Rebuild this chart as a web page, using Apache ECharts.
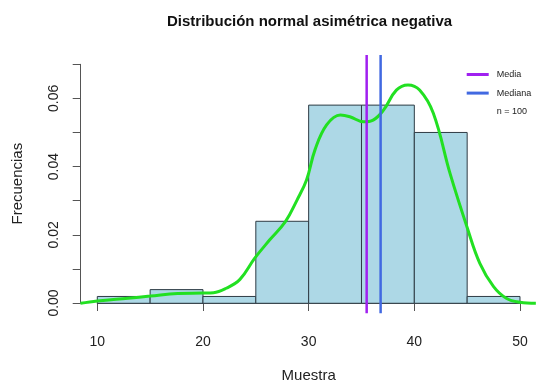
<!DOCTYPE html>
<html>
<head>
<meta charset="utf-8">
<script src="https://cdn.jsdelivr.net/npm/echarts@6/dist/echarts.min.js"></script>
<style>
html,body{margin:0;padding:0;background:#fff;}
#chart{width:537px;height:388px;}
</style>
</head>
<body>
<div id="chart"></div>
<script>
// Histogram bins (density)
var binStarts = [10, 15, 20, 25, 30, 35, 40, 45];
var binEnds   = [15, 20, 25, 30, 35, 40, 45, 50];
var binDensity = [0.002, 0.004, 0.002, 0.024, 0.058, 0.058, 0.050, 0.002];

// Kernel density curve
var densX = [8.4, 10.0, 12.9, 15.0, 17.6, 20.0, 21.0, 22.2, 23.5, 24.9, 26.3, 27.8, 28.9, 29.8, 30.6, 31.7, 33.0, 33.9, 35.2, 36.1, 37.1, 38.3, 39.4, 40.5, 41.8, 43.4, 45.0, 46.2, 47.5, 48.7, 50.0, 51.5];
var densY = [0.0000, 0.0007, 0.0015, 0.0021, 0.0029, 0.0030, 0.0031, 0.0044, 0.0070, 0.0132, 0.0185, 0.0239, 0.0302, 0.0361, 0.0449, 0.0522, 0.0551, 0.0546, 0.0531, 0.0536, 0.0566, 0.0624, 0.0639, 0.0624, 0.0556, 0.0378, 0.0222, 0.0117, 0.0049, 0.0015, 0.0003, 0.0000];

// Mean / median
var meanValue = 35.49;
var medianValue = 36.81;
var sampleSize = 100;

// Axis ticks
var xTicks = [10, 20, 30, 40, 50];
var yTickLabels = ['0.00', '0.02', '0.04', '0.06'];

// plot-region extent (R usr coordinates)
var usrX = [8.429, 51.571];
var usrY = [-0.00293, 0.07267];

var bars = binStarts.map(function (s, i) { return [s, binEnds[i], binDensity[i]]; });
var curve = densX.map(function (x, i) { return [x, densY[i]]; });

var chart = echarts.init(document.getElementById('chart'), null, {renderer: 'canvas'});
var FONT = 'Liberation Sans, Arial, sans-serif';
chart.setOption({
  animation: false,
  backgroundColor: '#ffffff',
  title: {
    text: 'Distribución normal asimétrica negativa',
    left: 162, top: 9,
    textStyle: {fontFamily: FONT, fontSize: 15, fontWeight: 'bold', color: '#111'}
  },
  legend: {
    orient: 'vertical',
    left: 466.7, top: 70, padding: 0,
    itemWidth: 22, itemHeight: 3,
    itemGap: 9.6,
    selectedMode: false,
    textStyle: {fontFamily: FONT, fontSize: 9, color: '#222', padding: [0, 0, 0, 3]},
    data: [
      {name: 'Media', icon: 'rect'},
      {name: 'Mediana', icon: 'rect'},
      {name: 'n = ' + sampleSize, icon: 'none'}
    ]
  },
  grid: [
    {left: 80.7, right: 0.4, top: 55, bottom: 74.7},
    {left: 97.3, right: 17, top: 64.3, bottom: 84.7}
  ],
  xAxis: [
    {gridIndex: 0, type: 'value', min: usrX[0], max: usrX[1], show: false},
    {
      gridIndex: 1, type: 'value', min: 10, max: 50, interval: 10,
      offset: 10,
      name: 'Muestra', nameLocation: 'middle', nameGap: 55,
      nameTextStyle: {fontFamily: FONT, fontSize: 15, color: '#222'},
      axisLine: {show: true, lineStyle: {color: '#555', width: 1}},
      axisTick: {show: true, length: 8, lineStyle: {color: '#555'}},
      axisLabel: {fontFamily: FONT, fontSize: 14, color: '#222', margin: 22,
        formatter: function (v) { return xTicks.indexOf(v) >= 0 ? String(v) : ''; }},
      splitLine: {show: false}
    }
  ],
  yAxis: [
    {gridIndex: 0, type: 'value', min: usrY[0], max: usrY[1], show: false},
    {
      gridIndex: 1, type: 'value', min: 0, max: 0.07, interval: 0.01,
      offset: 16.6,
      name: 'Frecuencias', nameLocation: 'middle', nameGap: 55, nameRotate: 90,
      nameTextStyle: {fontFamily: FONT, fontSize: 15, color: '#222'},
      axisLine: {show: true, lineStyle: {color: '#555', width: 1}},
      axisTick: {show: true, length: 8, lineStyle: {color: '#555'}},
      axisLabel: {fontFamily: FONT, fontSize: 14, color: '#222', margin: 20, rotate: 90,
        formatter: function (v) {
          var s = v.toFixed(2);
          return yTickLabels.indexOf(s) >= 0 ? s : '';
        }},
      splitLine: {show: false}
    }
  ],
  series: [
    {
      type: 'custom',
      name: 'hist',
      xAxisIndex: 0, yAxisIndex: 0,
      data: bars,
      z: 1,
      renderItem: function (params, api) {
        var p0 = api.coord([api.value(0), api.value(2)]);
        var p1 = api.coord([api.value(1), 0]);
        return {
          type: 'rect',
          shape: {x: p0[0], y: p0[1], width: p1[0] - p0[0], height: p1[1] - p0[1]},
          style: {fill: '#ADD8E6', stroke: '#2e3b44', lineWidth: 1}
        };
      }
    },
    {
      type: 'line',
      name: 'densidad',
      xAxisIndex: 0, yAxisIndex: 0,
      data: curve,
      smooth: 0.4,
      symbol: 'none',
      z: 3,
      lineStyle: {color: '#22e022', width: 3}
    },
    {
      type: 'line',
      name: 'Media',
      xAxisIndex: 0, yAxisIndex: 0,
      data: [[meanValue, usrY[0]], [meanValue, usrY[1]]],
      symbol: 'none',
      z: 4,
      itemStyle: {color: '#A020F0'},
      lineStyle: {color: '#A020F0', width: 2.5}
    },
    {
      type: 'line',
      name: 'Mediana',
      xAxisIndex: 0, yAxisIndex: 0,
      data: [[medianValue, usrY[0]], [medianValue, usrY[1]]],
      symbol: 'none',
      z: 4,
      itemStyle: {color: '#4169E1'},
      lineStyle: {color: '#4169E1', width: 2.5}
    },
    {
      type: 'line',
      name: 'n = ' + sampleSize,
      xAxisIndex: 1, yAxisIndex: 1,
      data: [],
      symbol: 'none'
    }
  ]
});
</script>
</body>
</html>
